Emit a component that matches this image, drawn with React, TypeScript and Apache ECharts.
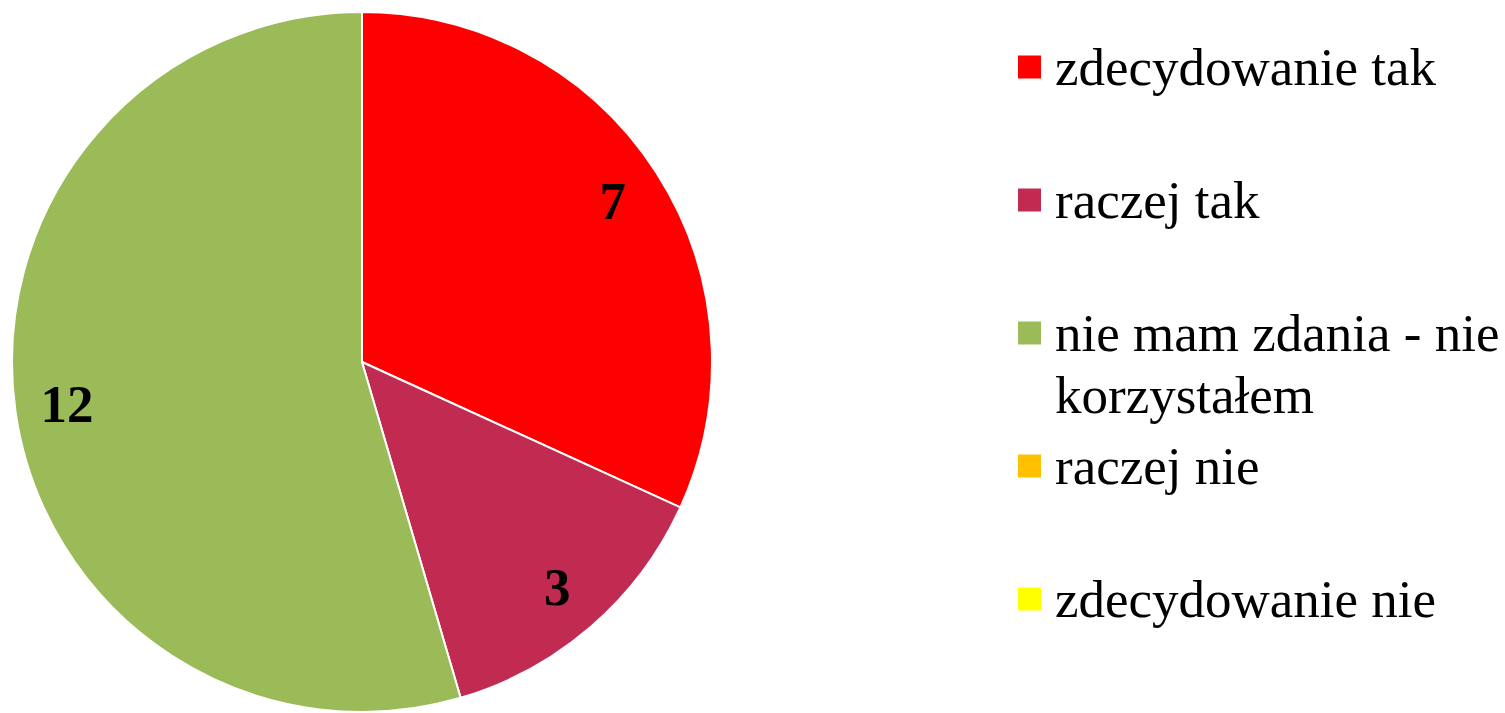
import React, { useEffect, useRef } from "react";
import * as echarts from "echarts";

const categories = [
  "zdecydowanie tak",
  "raczej tak",
  "nie mam zdania - nie korzystałem",
  "raczej nie",
  "zdecydowanie nie",
];
const values = [7, 3, 12, 0, 0];
const colors = ["#FF0000", "#C22B51", "#9BBB59", "#FFC000", "#FFFF00"];
const legendLabels = [
  "zdecydowanie tak",
  "raczej tak",
  "\nnie mam zdania - nie\nkorzystałem",
  "raczej nie",
  "zdecydowanie nie",
];

export default function App() {
  const ref = useRef<HTMLDivElement>(null);
  useEffect(() => {
    const chart = echarts.init(ref.current!, null, { renderer: "svg" });
    const font = "'Liberation Serif', 'Times New Roman', serif";
    const data = categories.map((name, i) => ({
      name,
      value: values[i],
      itemStyle: { color: colors[i] },
    }));
    const legends = categories.map((name, i) => {
      const multi = legendLabels[i].includes("\n");
      const center = 67 + 133 * i;
      return {
        data: [name],
        left: 1016,
        top: multi ? center - 93 : center - 31,
        padding: 0,
        orient: "vertical",
        icon: "rect",
        itemWidth: 25,
        itemHeight: 25,
        formatter: (n: string) => legendLabels[categories.indexOf(n)],
        textStyle: {
          fontFamily: font,
          fontSize: 53,
          lineHeight: 62,
          color: "#000",
          padding: [0, 0, 0, 8],
        },
      };
    });
    chart.setOption({
      animation: false,
      backgroundColor: "#fff",
      legend: legends,
      series: [
        {
          type: "pie",
          center: [362, 362],
          radius: [0, 350],
          startAngle: 90,
          clockwise: true,
          data,
          label: { show: false },
          labelLine: { show: false },
          itemStyle: { borderColor: "#fff", borderWidth: 2 },
          emphasis: { disabled: true },
        },
        {
          type: "pie",
          center: [362, 362],
          radius: [240, 350],
          startAngle: 90,
          clockwise: true,
          silent: true,
          data: categories.map((name, i) => ({ name, value: values[i] })),
          itemStyle: { color: "rgba(0,0,0,0)", borderWidth: 0 },
          label: {
            show: true,
            position: "inside",
            formatter: (p: any) => (p.value ? String(p.value) : ""),
            fontFamily: font,
            fontSize: 53,
            fontWeight: "bold",
            color: "#000",
          },
          labelLine: { show: false },
          emphasis: { disabled: true },
        },
      ],
    });
    return () => chart.dispose();
  }, []);
  return (
    <div
      ref={ref}
      style={{ position: "fixed", left: 0, top: 0, width: 1505, height: 713 }}
    />
  );
}
